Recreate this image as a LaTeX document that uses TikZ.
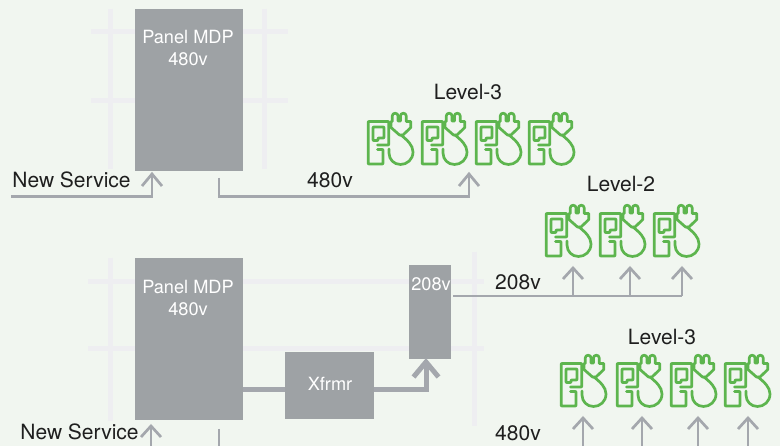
\documentclass[tikz,border=0pt]{standalone}
\usepackage{fontspec}
\setmainfont{TeX Gyre Heros}
\definecolor{bgc}{HTML}{F1F6F0}
\definecolor{boxc}{HTML}{9EA2A5}
\definecolor{gridc}{HTML}{EEEEF1}
\definecolor{linec}{HTML}{A4A7AD}
\definecolor{greenc}{HTML}{5DB54E}
\tikzset{
  x=1pt,y=-1pt,
  gridline/.style={draw=gridc,line width=5pt},
  panelbox/.style={fill=boxc,draw=none,inner sep=0pt,outer sep=0pt,anchor=north west},
  wlabel/.style={text=white,font=\fontsize{18.2}{22}\selectfont,inner sep=0pt,align=center},
  blabel/.style={text=black!88,font=\fontsize{21}{24}\selectfont,inner sep=0pt},
  wire/.style={draw=linec,line width=2.7pt,line join=miter},
  thickwire/.style={draw=linec,line width=5pt,line join=miter},
  evicon/.pic={
    \begin{scope}[draw=greenc,line width=2.7pt,line join=round,line cap=round]
      % F outline
      \draw[rounded corners=0.6pt] (10.5,33) -- (21.7,33) -- (21.7,9.5) -- (1.2,9.5) -- (1.2,52) -- (16,52) -- (16,37.5) -- (10.5,37.5);
      % inner contour
      \draw[rounded corners=0.6pt] (6,15) -- (17,15) -- (17,26) -- (11,26) -- (11,28.5) -- (6,28.5) -- cycle;
      % cable
      \draw (34,23) .. controls (40,28) and (46,33) .. (46,40)
            .. controls (46,47.5) and (40,52.5) .. (33.5,52.5)
            .. controls (27,52.5) and (22,47.5) .. (22,41) -- (22,37);
      % plug
      \draw (24,9.5) -- (25.3,9.5) -- (25.3,3.8)
        .. controls (25.3,0.4) and (31,0.4) .. (31,3.8) -- (31,9)
        -- (33.5,9) -- (33.5,3.8)
        .. controls (33.5,0.4) and (39.2,0.4) .. (39.2,3.8) -- (39.2,9.5)
        -- (43.8,9.5) -- (43.8,15.5) -- (36,23) -- (32.5,23) -- (24,15.5) -- cycle;
    \end{scope}
  }
}
\begin{document}
\begin{tikzpicture}
\useasboundingbox (0,0) rectangle (780,446);
\fill[bgc] (0,0) rectangle (780,446);
% grid lines
\draw[gridline] (110,9) -- (110,169);
\draw[gridline] (264.5,9) -- (264.5,169);
\draw[gridline] (91,31.5) -- (288,31.5);
\draw[gridline] (91,100.5) -- (288,100.5);
\draw[gridline] (110,258) -- (110,421);
\draw[gridline] (474,252) -- (474,426);
\draw[gridline] (88,282) -- (484,282);
\draw[gridline] (88,348.5) -- (484,348.5);
% boxes
\node[panelbox,minimum width=108pt,minimum height=162pt] (mdpa) at (135,9) {};
\node[panelbox,minimum width=108pt,minimum height=162pt] (mdpb) at (135,258) {};
\node[panelbox,minimum width=89pt,minimum height=67pt] (xf) at (285,352) {};
\node[panelbox,minimum width=42pt,minimum height=94pt] (lv) at (409,265) {};
\node[wlabel] (ta) at (188,48) {Panel MDP\\480v};
\node[wlabel] (tb) at (188,298.5) {Panel MDP\\480v};
\node[wlabel] (tx) at (330,384) {Xfrmr};
\node[wlabel] (tv) at (431,284) {208v};
% text
\node[blabel] (ns1) at (71.5,180) {New Service};
\node[blabel] (ns2) at (79.5,432) {New Service};
\node[blabel] (v1) at (330,180) {480v};
\node[blabel] (v2) at (518,282) {208v};
\node[blabel] (v3) at (518,433) {480v};
\node[blabel] (l1) at (468,92) {Level-3};
\node[blabel] (l2) at (621,184) {Level-2};
\node[blabel] (l3) at (662,337) {Level-3};
% icons
\foreach \px/\py in {367/112,421/112,475/112,528/112,545/204,599/204,653/204,560/354,616/354,670/354,724/354}
  \pic at (\px,\py) {evicon};
% top wiring
\coordinate (a0) at (11,196.5);
\coordinate (a1) at (152,196.5);
\coordinate (a2) at (152,174);
\draw[wire] (a0) -- (a1) -- (a2);
\draw[wire] (142,186) -- (a2) -- (162,186);
\coordinate (b0) at (219,178);
\coordinate (b1) at (219,196.5);
\coordinate (b2) at (469,196.5);
\coordinate (b3) at (469,174);
\draw[wire] (b0) -- (b1) -- (b2) -- (b3);
\draw[wire] (459,186) -- (b3) -- (479,186);
% lower wiring
\draw[thickwire] (mdpb.east |- 0,390) -- (xf.west |- 0,390);
\coordinate (c1) at (426,390);
\coordinate (c2) at (426,362);
\draw[thickwire] (xf.east |- 0,390) -- (c1) -- (c2);
\draw[thickwire] (413.5,377) -- (c2) -- (438.5,377);
\coordinate (d0) at (453,296);
\coordinate (d3) at (682,296);
\draw[wire] (d0) -- (d3);
\foreach \ax in {573,630,682}{
  \draw[wire] (\ax,296) -- (\ax,268);
  \draw[wire] (\ax-10,279) -- (\ax,268) -- (\ax+10,279);
}
\foreach \ax/\ty in {151/426,583/418,642/418,698/418,748/418}{
  \draw[wire] (\ax,446) -- (\ax,\ty);
  \draw[wire] (\ax-10,\ty+11) -- (\ax,\ty) -- (\ax+10,\ty+11);
}
\coordinate (e0) at (219,429);
\coordinate (e1) at (219,446);
\draw[wire] (e0) -- (e1);
\end{tikzpicture}
\end{document}
